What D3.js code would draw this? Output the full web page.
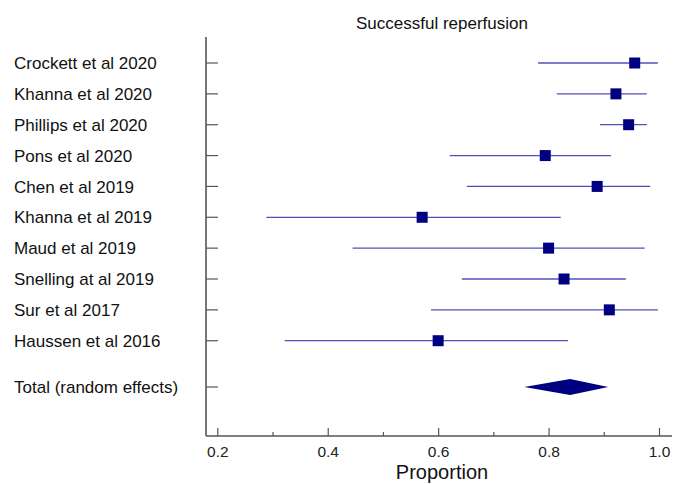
<!DOCTYPE html>
<html>
<head>
<meta charset="utf-8">
<script src="https://cdn.jsdelivr.net/npm/d3@7"></script>
<style>
  body { margin: 0; background: #fff; }
  svg { display: block; font-family: "Liberation Sans", Arial, sans-serif; }
</style>
</head>
<body>
<svg id="chart" width="682" height="484"></svg>
<script>
const studies = ["Crockett et al 2020","Khanna et al 2020","Phillips et al 2020","Pons et al 2020","Chen et al 2019","Khanna et al 2019","Maud et al 2019","Snelling at al 2019","Sur et al 2017","Haussen et al 2016"];
const estimates = [0.956,0.922,0.945,0.794,0.888,0.571,0.800,0.828,0.910,0.600];
const lowerCI =   [0.781,0.815,0.893,0.621,0.652,0.289,0.445,0.643,0.587,0.322];
const upperCI =   [0.998,0.978,0.978,0.913,0.984,0.822,0.974,0.940,0.998,0.835];
const totalLabel = "Total (random effects)";
const totalEstimate = 0.839, totalLower = 0.756, totalUpper = 0.908;
const majorTicks = [0.2,0.4,0.6,0.8,1.0];
const minorTicks = [0.3,0.5,0.7,0.9];
const title = "Successful reperfusion";
const xLabel = "Proportion";

const FONT = "'Liberation Sans', Arial, sans-serif";
const svg = d3.select("#chart");
const x = d3.scaleLinear().domain([0.2, 1.0]).range([217.3, 659]);
const y = d3.scaleLinear().domain([0, 10.5]).range([63, 387]);
const axisLeftX = 206, axisBottomY = 436;

// title
svg.append("text").attr("x", 442).attr("y", 29).attr("text-anchor", "middle")
  .attr("font-size", 17).attr("fill", "#111").text(title);

// left axis line
svg.append("line").attr("x1", axisLeftX).attr("x2", axisLeftX).attr("y1", 37).attr("y2", axisBottomY)
  .attr("stroke", "#555").attr("stroke-width", 1.6);
// bottom axis line
svg.append("line").attr("x1", axisLeftX).attr("x2", 672).attr("y1", axisBottomY).attr("y2", axisBottomY)
  .attr("stroke", "#555").attr("stroke-width", 1.6);

// x axis ticks via d3 axis
const xAxis = d3.axisTop(x).tickValues(majorTicks).tickSize(8).tickFormat(d3.format(".1f"));
const gx = svg.append("g").attr("transform", `translate(0,${axisBottomY})`).call(xAxis);
gx.select(".domain").remove();
gx.selectAll(".tick line").attr("stroke", "#555").attr("stroke-width", 1.2);
gx.selectAll(".tick text").attr("y", 21).attr("dy", null).attr("font-size", 15.5)
  .attr("fill", "#222").attr("font-family", FONT);
const gxm = svg.append("g").attr("transform", `translate(0,${axisBottomY})`)
  .call(d3.axisTop(x).tickValues(minorTicks).tickSize(4).tickFormat(""));
gxm.select(".domain").remove();
gxm.selectAll(".tick line").attr("stroke", "#555").attr("stroke-width", 1.2);

// x label
svg.append("text").attr("x", 442).attr("y", 479).attr("text-anchor", "middle")
  .attr("font-size", 20).attr("fill", "#111").text(xLabel);

const rows = studies.map((s, i) => ({ label: s, idx: i, est: estimates[i], lo: lowerCI[i], hi: upperCI[i] }));
const allRows = rows.concat([{ label: totalLabel, idx: 10.5 }]);

// y ticks
svg.selectAll(".ytick").data(allRows).enter().append("line")
  .attr("x1", axisLeftX).attr("x2", axisLeftX + 12)
  .attr("y1", d => y(d.idx)).attr("y2", d => y(d.idx))
  .attr("stroke", "#555").attr("stroke-width", 1.2);

// labels
svg.selectAll(".ylab").data(allRows).enter().append("text")
  .attr("x", 14).attr("y", d => y(d.idx)).attr("dy", "0.36em")
  .attr("font-size", 17).attr("fill", "#111").text(d => d.label);

// CI lines
svg.selectAll(".ci").data(rows).enter().append("line")
  .attr("x1", d => x(d.lo)).attr("x2", d => x(d.hi))
  .attr("y1", d => y(d.idx)).attr("y2", d => y(d.idx))
  .attr("stroke", "#5050b8").attr("stroke-width", 1.3);

// squares
const sz = 11;
svg.selectAll(".pt").data(rows).enter().append("rect")
  .attr("x", d => x(d.est) - sz / 2).attr("y", d => y(d.idx) - sz / 2)
  .attr("width", sz).attr("height", sz).attr("fill", "#000080");

// diamond
const ty = y(10.5), h = 8;
svg.append("path")
  .attr("d", `M${x(totalLower)},${ty} L${x(totalEstimate)},${ty - h} L${x(totalUpper)},${ty} L${x(totalEstimate)},${ty + h} Z`)
  .attr("fill", "#000080");
</script>
</body>
</html>
